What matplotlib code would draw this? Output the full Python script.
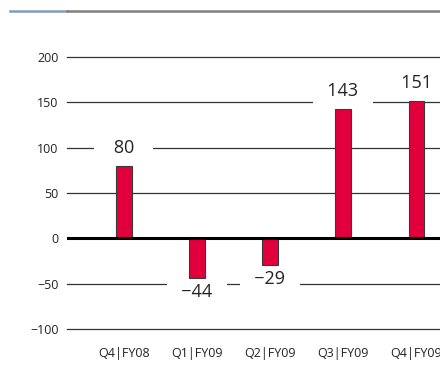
import matplotlib.pyplot as plt
from matplotlib.lines import Line2D

quarters = ["Q4|FY08", "Q1|FY09", "Q2|FY09", "Q3|FY09", "Q4|FY09"]
values = [80, -44, -29, 143, 151]
yticks = [-100, -50, 0, 50, 100, 150, 200]

plt.rcParams["font.family"] = ["Open Sans", "DejaVu Sans"]

fig = plt.figure(figsize=(4.4, 3.84), dpi=100)
ax = fig.add_axes([67 / 440, 55 / 384, 393 / 440, 272 / 384])

x = list(range(len(values)))
ax.bar(x, values, width=0.21, color="#e2003c", edgecolor="#3a3a3a",
       linewidth=0.8, zorder=3)

for yv in yticks:
    if yv == 0:
        ax.axhline(0, color="black", linewidth=2.2, zorder=4)
    else:
        ax.axhline(yv, color="#333333", linewidth=0.9, zorder=1, clip_on=False)

# value labels, padded with spaces so the white box cuts a roughly
# fixed-width gap in the grid
for xi, v in zip(x, values):
    off = 18 if v > 0 else -14
    s = f"{v}".replace("-", "\u2212")
    sp = " " * (5 - len(s))
    ax.annotate(sp + s + sp, (xi, v), xytext=(0, off), textcoords="offset pixels",
                ha="center", va="center", fontsize=13, color="#222222",
                zorder=2,
                bbox=dict(boxstyle="square,pad=0.3", fc="white", ec="none"))

ax.set_xlim(-0.78, 4.6)
ax.set_ylim(-100, 200)
ax.set_yticks(yticks)
ax.set_yticklabels([str(t).replace("-", "\u2212") for t in yticks])
ax.set_xticks(x)
ax.set_xticklabels(quarters)
ax.tick_params(axis="both", length=0, labelsize=9, colors="#222222")
ax.tick_params(axis="x", pad=13)
ax.tick_params(axis="y", pad=6)
for s in ax.spines.values():
    s.set_visible(False)

# header rule
fig.add_artist(Line2D([10 / 440, 67 / 440], [1 - 11 / 384] * 2,
                      color="#7f9cc0", linewidth=1.8))
fig.add_artist(Line2D([67 / 440, 1.0], [1 - 11 / 384] * 2,
                      color="#808080", linewidth=1.8))

fig.savefig("out.png", dpi=100)
